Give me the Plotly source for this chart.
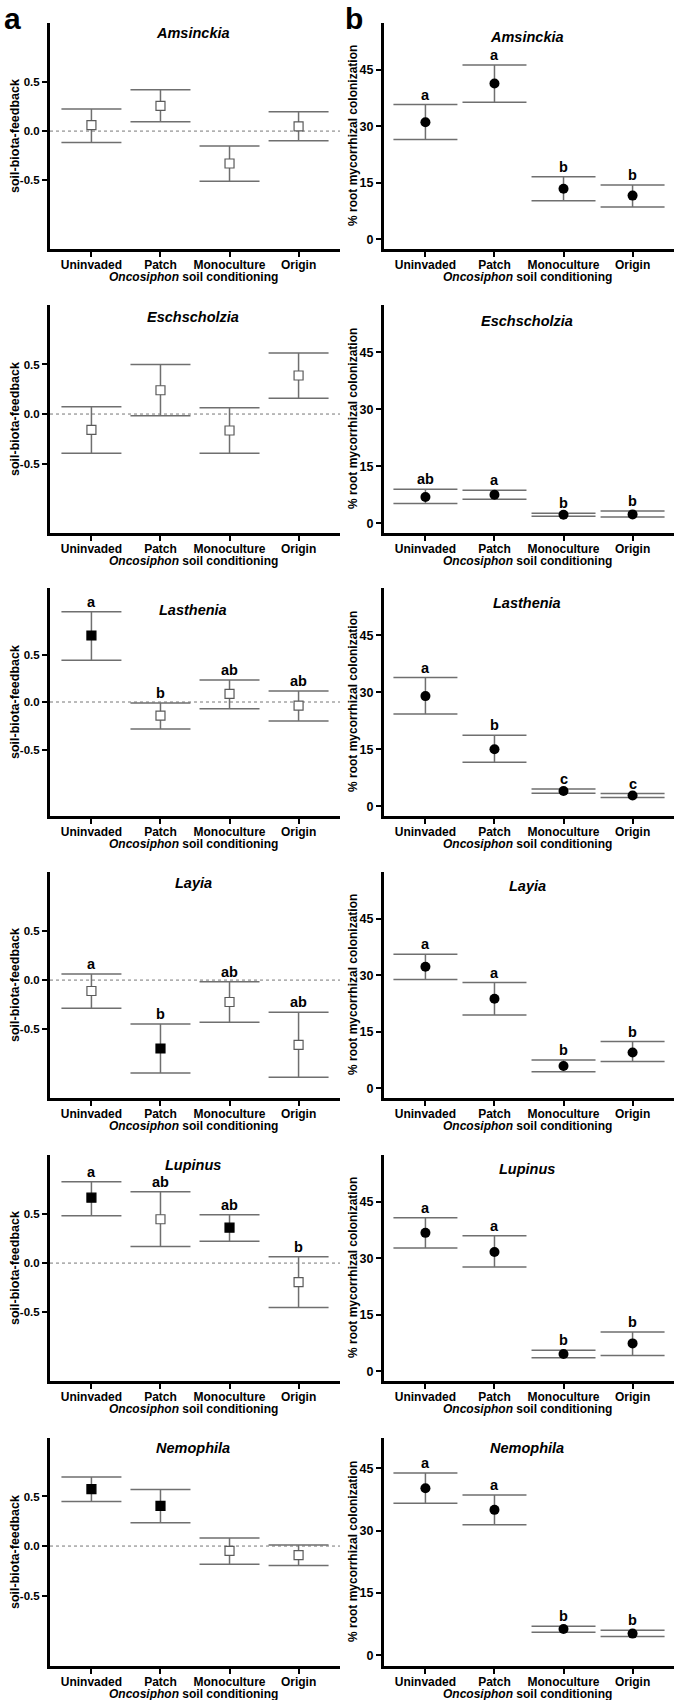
import plotly.graph_objects as go

categories = ["Uninvaded", "Patch", "Monoculture", "Origin"]
species = ["Amsinckia", "Eschscholzia", "Lasthenia", "Layia", "Lupinus", "Nemophila"]

# Panel a: soil-biota-feedback (mean, upper and lower error limits)
sbf_mean = [
    [0.06, 0.257, -0.33, 0.047],
    [-0.159, 0.24, -0.166, 0.389],
    [0.70, -0.144, 0.085, -0.039],
    [-0.111, -0.696, -0.223, -0.659],
    [0.666, 0.446, 0.361, -0.193],
    [0.575, 0.405, -0.048, -0.092],
]
sbf_upper = [
    [0.226, 0.42, -0.152, 0.196],
    [0.074, 0.5, 0.064, 0.615],
    [0.95, -0.011, 0.232, 0.116],
    [0.061, -0.446, -0.017, -0.328],
    [0.828, 0.726, 0.493, 0.064],
    [0.697, 0.571, 0.082, 0.01],
]
sbf_lower = [
    [-0.115, 0.095, -0.51, -0.098],
    [-0.395, -0.017, -0.395, 0.159],
    [0.44, -0.285, -0.07, -0.2],
    [-0.287, -0.946, -0.429, -0.99],
    [0.483, 0.169, 0.223, -0.453],
    [0.449, 0.235, -0.184, -0.197],
]
sbf_filled = [
    [False, False, False, False],
    [False, False, False, False],
    [True, False, False, False],
    [False, True, False, False],
    [True, False, True, False],
    [True, True, False, False],
]
sbf_letters = [
    ["", "", "", ""],
    ["", "", "", ""],
    ["a", "b", "ab", "ab"],
    ["a", "b", "ab", "ab"],
    ["a", "ab", "ab", "b"],
    ["", "", "", ""],
]

# Panel b: % root mycorrhizal colonization
amf_mean = [
    [31.1, 41.4, 13.4, 11.6],
    [6.9, 7.5, 2.2, 2.3],
    [29.0, 15.0, 4.0, 2.8],
    [32.3, 23.8, 5.9, 9.5],
    [36.8, 31.7, 4.6, 7.4],
    [40.2, 35.0, 6.3, 5.2],
]
amf_upper = [
    [35.8, 46.3, 16.6, 14.4],
    [8.9, 8.7, 2.6, 3.2],
    [33.9, 18.7, 4.5, 3.3],
    [35.6, 28.1, 7.5, 12.4],
    [40.8, 36.0, 5.6, 10.4],
    [43.9, 38.6, 7.0, 6.0],
]
amf_lower = [
    [26.5, 36.4, 10.2, 8.6],
    [5.2, 6.3, 1.8, 1.6],
    [24.3, 11.6, 3.4, 2.3],
    [28.9, 19.5, 4.4, 7.1],
    [32.8, 27.7, 3.6, 4.2],
    [36.6, 31.4, 5.5, 4.5],
]
amf_letters = [
    ["a", "a", "b", "b"],
    ["ab", "a", "b", "b"],
    ["a", "b", "c", "c"],
    ["a", "a", "b", "b"],
    ["a", "a", "b", "b"],
    ["a", "a", "b", "b"],
]

sbf_ticks = [-0.5, 0.0, 0.5]
sbf_ticktext = ["-0.5", "0.0", "0.5"]
amf_ticks = [0, 15, 30, 45]
amf_ticktext = ["0", "15", "30", "45"]

# ---------------- layout geometry (pixels) ----------------
W, H = 680, 1700
FONT = "Liberation Sans, Arial, Helvetica, sans-serif"
rows_px = [(23, 249), (305, 533), (588, 816), (872, 1098), (1155, 1381), (1438, 1666)]
cols_px = [(50, 340), (384, 674)]
sbf_ranges = [[-1.2, 1.1], [-1.2, 1.1], [-1.2, 1.2], [-1.2, 1.1], [-1.2, 1.1], [-1.21, 1.09]]
amf_ranges = [[-2.6, 57.5]] * 5 + [[-2.6, 52.3]]
title_y_a = [33, 317, 610, 883, 1165, 1448]
title_y_b = [37, 321, 603, 886, 1169, 1448]


def px_x(p):
    return p / W


def px_y(p):
    return 1 - p / H


fig = go.Figure()
layout = dict(
    width=W, height=H, margin=dict(l=0, r=0, t=0, b=0),
    paper_bgcolor="white", plot_bgcolor="white", showlegend=False,
    font=dict(family=FONT, color="black"),
)
annotations = []
shapes = []

for r, sp in enumerate(species):
    top, bot = rows_px[r]
    for c in range(2):
        n = 2 * r + c + 1
        xs = "x" if n == 1 else f"x{n}"
        ys = "y" if n == 1 else f"y{n}"
        xkey = "xaxis" if n == 1 else f"xaxis{n}"
        ykey = "yaxis" if n == 1 else f"yaxis{n}"
        if c == 0:
            mean, up, lo = sbf_mean[r], sbf_upper[r], sbf_lower[r]
            filled = sbf_filled[r]
            letters = sbf_letters[r]
            colors = ["black" if f else "white" for f in filled]
            lcolors = ["black" if f else "#5a5a5a" for f in filled]
            marker = dict(symbol="square", size=9, color=colors,
                          line=dict(color=lcolors, width=1.2))
            capw = 30
            yrange = sbf_ranges[r]
            tickvals, ticktext = sbf_ticks, sbf_ticktext
            tsize = 11.5
        else:
            mean, up, lo = amf_mean[r], amf_upper[r], amf_lower[r]
            letters = amf_letters[r]
            marker = dict(symbol="circle", size=10, color="black",
                          line=dict(color="black", width=0))
            capw = 32
            yrange = amf_ranges[r]
            tickvals, ticktext = amf_ticks, amf_ticktext
            tsize = 12.5

        fig.add_trace(go.Scatter(
            x=list(range(len(categories))), y=mean, mode="markers",
            marker=marker, xaxis=xs, yaxis=ys, cliponaxis=False,
            error_y=dict(type="data", symmetric=False,
                         array=[u - m for u, m in zip(up, mean)],
                         arrayminus=[m - l for m, l in zip(mean, lo)],
                         color="#6f6f6f", thickness=1.5, width=capw),
        ))

        layout[xkey] = dict(
            domain=[px_x(cols_px[c][0]), px_x(cols_px[c][1])],
            anchor=ys, range=[-0.6, 3.6],
            tickvals=list(range(len(categories))), ticktext=categories,
            showline=True, linewidth=3, linecolor="black",
            ticks="outside", ticklen=5, tickwidth=2, tickcolor="black",
            ticklabelstandoff=-2,
            showgrid=False, zeroline=False, fixedrange=True,
            tickfont=dict(family=FONT, size=12, color="black", weight="bold"),
        )
        layout[ykey] = dict(
            domain=[px_y(bot), px_y(top)], anchor=xs, range=yrange,
            tickvals=tickvals, ticktext=ticktext,
            showline=True, linewidth=3, linecolor="black",
            ticks="outside", ticklen=5, tickwidth=2, tickcolor="black",
            showgrid=False, zeroline=False, fixedrange=True,
            tickfont=dict(family=FONT, size=tsize, color="black", weight="bold"),
        )

        if c == 0:
            shapes.append(dict(type="line", xref=f"{xs} domain", yref=ys,
                               x0=0, x1=1, y0=0, y1=0, layer="below",
                               line=dict(color="#777777", width=1, dash="dot")))

        # significance letters
        for i, L in enumerate(letters):
            if L:
                annotations.append(dict(
                    x=i, y=up[i], xref=xs, yref=ys, text=L, showarrow=False,
                    yanchor="bottom", yshift=0,
                    font=dict(family=FONT, size=14.5, color="black", weight="bold")))

        # species title
        cx = (cols_px[c][0] + cols_px[c][1]) / 2 - 2
        ty = title_y_a[r] if c == 0 else title_y_b[r]
        annotations.append(dict(
            x=px_x(cx), y=px_y(ty), xref="paper", yref="paper",
            text=f"<b><i>{sp}</i></b>", showarrow=False,
            xanchor="center", yanchor="middle",
            font=dict(family=FONT, size=14.5, color="black")))

        # x-axis title
        annotations.append(dict(
            x=px_x(cx), y=px_y(bot + 28), xref="paper", yref="paper",
            text="<b><i>Oncosiphon</i> soil conditioning</b>", showarrow=False,
            xanchor="center", yanchor="middle",
            font=dict(family=FONT, size=12, color="black")))

        # y-axis title
        ytitle = "soil-biota-feedback" if c == 0 else "% root mycorrhizal colonization"
        yx = 15 if c == 0 else 353
        annotations.append(dict(
            x=px_x(yx), y=px_y((top + bot) / 2), xref="paper", yref="paper",
            text=f"<b>{ytitle}</b>", showarrow=False, textangle=-90,
            xanchor="center", yanchor="middle",
            font=dict(family=FONT, size=12.5 if c == 0 else 12, color="black")))

# panel letters
annotations.append(dict(x=px_x(12), y=px_y(18), xref="paper", yref="paper",
                        text="<b>a</b>", showarrow=False, xanchor="center", yanchor="middle",
                        font=dict(family=FONT, size=30, color="black")))
annotations.append(dict(x=px_x(354), y=px_y(18), xref="paper", yref="paper",
                        text="<b>b</b>", showarrow=False, xanchor="center", yanchor="middle",
                        font=dict(family=FONT, size=30, color="black")))

layout["annotations"] = annotations
layout["shapes"] = shapes
fig.update_layout(**layout)
fig.write_html("out.html")
